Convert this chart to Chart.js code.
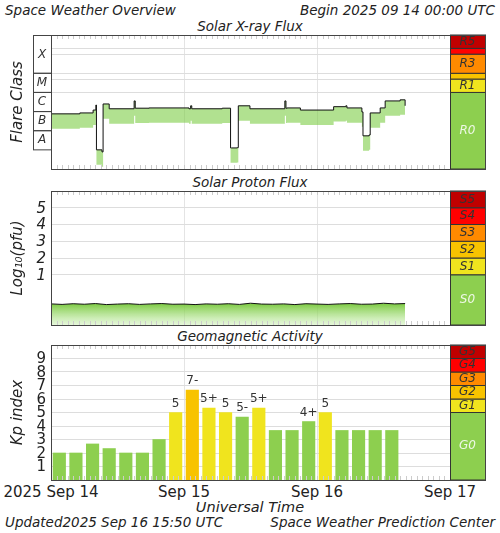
<!DOCTYPE html>
<html><head><meta charset="utf-8">
<script src="https://cdn.jsdelivr.net/npm/chart.js@4/dist/chart.umd.min.js"></script>
<style>
body{margin:0;background:#fff;width:500px;height:533px;overflow:hidden;position:relative;font-family:"DejaVu Sans",sans-serif;color:#222}
.t{position:absolute;white-space:nowrap;font-style:oblique;font-size:13.5px;line-height:16px}
.u{position:absolute;white-space:nowrap;font-size:15px;line-height:16px;transform:translateX(-50%)}
canvas{position:absolute;left:0}
</style></head><body>
<div class="t" style="left:5px;top:2px">Space Weather Overview</div>
<div class="t" style="right:5px;top:2px">Begin 2025 09 14 00:00 UTC</div>
<div class="t" style="left:0;width:500px;text-align:center;top:18px">Solar X-ray Flux</div>
<div class="t" style="left:0;width:500px;text-align:center;top:174px">Solar Proton Flux</div>
<div class="t" style="left:0;width:500px;text-align:center;top:328px">Geomagnetic Activity</div>
<div class="u" style="left:51px;top:484px">2025 Sep 14</div>
<div class="u" style="left:184px;top:484px">Sep 15</div>
<div class="u" style="left:317px;top:484px">Sep 16</div>
<div class="u" style="left:450px;top:484px">Sep 17</div>
<div class="t" style="left:0;width:500px;text-align:center;top:499px;font-size:14.5px">Universal Time</div>
<div class="t" style="left:5px;top:514px">Updated2025 Sep 16 15:50 UTC</div>
<div class="t" style="right:5px;top:514px">Space Weather Prediction Center</div>
<canvas id="c1" style="top:34px" width="500" height="136"></canvas>
<canvas id="c2" style="top:190px" width="500" height="136"></canvas>
<canvas id="c3" style="top:344px" width="500" height="137"></canvas>
<script>
// hours since 2025-09-14 00:00 UTC
const xrayHours = [0, 5.2, 7.6, 8.1, 8.2, 8.3, 9.2, 9.4, 10.5, 15.0, 15.2, 17.7, 24.9, 25.2, 25.4, 30.9, 32.4, 32.6, 33.6, 33.8, 35.9, 42.2, 42.4, 42.6, 45.0, 51.0, 53.2, 53.4, 56.1, 56.3, 57.4, 57.6, 59.4, 60.3, 63.0, 63.9];
const xrayFlux  = [7.6e-7, 8.5e-7, 1.2e-6, 2.2e-6, 1.0e-8, 1.0e-8, 7.8e-9, 2.5e-6, 1.4e-6, 3.6e-6, 1.5e-6, 1.55e-6, 1.4e-6, 2.0e-6, 1.4e-6, 1.5e-6, 1.26e-8, 1.26e-8, 1.3e-8, 2.0e-6, 1.4e-6, 3.6e-6, 1.5e-6, 1.55e-6, 1.2e-6, 1.8e-6, 2.0e-6, 1.55e-6, 9.6e-7, 5.4e-8, 6.0e-8, 8.5e-7, 1.55e-6, 3.6e-6, 4.1e-6, 2.0e-6];
const protonHours = [0, 2, 4, 6, 8, 10, 12, 14, 16, 18, 20, 22, 24, 26, 28, 30, 32, 34, 36, 38, 40, 42, 44, 46, 48, 50, 52, 54, 56, 58, 60, 62, 63.9];
const protonLog = [-0.74, -0.77, -0.73, -0.76, -0.72, -0.78, -0.75, -0.73, -0.77, -0.74, -0.72, -0.76, -0.75, -0.78, -0.74, -0.76, -0.73, -0.77, -0.70, -0.75, -0.76, -0.74, -0.78, -0.73, -0.75, -0.77, -0.74, -0.72, -0.76, -0.75, -0.70, -0.74, -0.72];
const protonTicks = [1, 2, 3, 4, 5];
const kpHours = [1.5, 4.5, 7.5, 10.5, 13.5, 16.5, 19.5, 22.5, 25.5, 28.5, 31.5, 34.5, 37.5, 40.5, 43.5, 46.5, 49.5, 52.5, 55.5, 58.5, 61.5];
const kpValues = [2, 2, 2.67, 2.33, 2, 2, 3, 5, 6.67, 5.33, 5, 4.67, 5.33, 3.67, 3.67, 4.33, 5, 3.67, 3.67, 3.67, 3.67];
const kpLabels = ['', '', '', '', '', '', '', '5', '7-', '5+', '5', '5-', '5+', '', '', '4+', '5', '', '', '', ''];
const kpTicks = [1, 2, 3, 4, 5, 6, 7, 8, 9];
const flareClasses = ['A', 'B', 'C', 'M', 'X'];
const dayTicks = [24, 48];

const GREEN = '#8dcf4f', YEL = '#f0e41e', AMB = '#f8c300', ORG = '#ff8a00', RED = '#ff0000', DRED = '#c00000';
const rBands = [[1e-9, 1e-5, GREEN, 'R0'], [1e-5, 5e-5, YEL, 'R1'], [5e-5, 1e-4, AMB, ''], [1e-4, 1e-3, ORG, 'R3'], [1e-3, 2e-3, RED, ''], [2e-3, 1e-2, DRED, 'R5']];
const sBands = [[-2, 1, GREEN, 'S0'], [1, 2, YEL, 'S1'], [2, 3, AMB, 'S2'], [3, 4, ORG, 'S3'], [4, 5, RED, 'S4'], [5, 6, DRED, 'S5']];
const gBands = [[0, 5, GREEN, 'G0'], [5, 6, YEL, 'G1'], [6, 7, AMB, 'G2'], [7, 8, ORG, 'G3'], [8, 9, RED, 'G4'], [9, 10, DRED, 'G5']];

function kpColor(v) { return v >= 7 ? ORG : v >= 6 ? AMB : v >= 5 ? YEL : GREEN; }

// border, hourly ticks, scale bar, y labels and rotated axis title
function frame(bands, title, labels, italic) {
    return {
        id: 'frame',
        afterDraw(chart) {
            const c = chart.ctx, a = chart.chartArea, y = chart.scales.y, x = chart.scales.x;
            c.save();
            c.strokeStyle = '#ccc'; c.lineWidth = 1;
            for (let h = 1; h < 72; h++) {
                const px = Math.round(x.getPixelForValue(h)) + 0.5;
                c.beginPath(); c.moveTo(px, a.top); c.lineTo(px, a.top + 4);
                c.moveTo(px, a.bottom); c.lineTo(px, a.bottom - 4); c.stroke();
            }
            const bx = a.right, bw = 35;
            bands.forEach(b => {
                const y0 = y.getPixelForValue(b[0]), y1 = y.getPixelForValue(b[1]);
                c.fillStyle = b[2]; c.fillRect(bx, y1, bw, y0 - y1);
                c.strokeStyle = '#333'; c.strokeRect(bx + 0.5, y1, bw, y0 - y1);
                if (b[3]) {
                    c.fillStyle = b[2] === GREEN ? '#eef8e6' : '#333';
                    c.font = 'oblique 12px "DejaVu Sans"'; c.textAlign = 'center'; c.textBaseline = 'middle';
                    c.fillText(b[3], bx + bw / 2, (y0 + y1) / 2);
                }
            });
            c.strokeStyle = '#444';
            c.strokeRect(a.left + 0.5, a.top + 0.5, a.right - a.left + bw, a.bottom - a.top);
            c.fillStyle = '#222'; c.textBaseline = 'middle'; c.textAlign = 'right';
            c.font = (italic ? 'oblique ' : '') + '15px "DejaVu Sans"';
            (labels || []).forEach(v => c.fillText(String(v), a.left - 5, y.getPixelForValue(v) + 1));
            c.translate(18, (a.top + a.bottom) / 2); c.rotate(-Math.PI / 2);
            c.font = 'oblique 15px "DejaVu Sans"'; c.textAlign = 'center';
            c.fillText(title, 0, 0);
            c.restore();
        }
    };
}

function xAxis() {
    return {
        type: 'linear', min: 0, max: 72, offset: false,
        ticks: { display: false }, border: { display: false },
        afterBuildTicks: s => { s.ticks = dayTicks.map(v => ({ value: v })); },
        grid: { color: '#e4e4e4', drawTicks: false, offset: false }
    };
}
function yAxis(extra, gridVals) {
    return Object.assign({
        afterFit: s => { s.width = 51; },
        ticks: { display: false }, border: { display: false },
        afterBuildTicks: s => { s.ticks = gridVals.map(v => ({ value: v })); },
        grid: { color: '#ddd', drawTicks: false }
    }, extra);
}
const base = {
    responsive: false, animation: false,
    layout: { padding: { top: 1, bottom: 1, right: 50, left: 0 } },
    plugins: { legend: { display: false }, tooltip: { enabled: false } }
};
function fade(ctx) {
    const a = ctx.chart.chartArea; if (!a) return GREEN;
    const g = ctx.chart.ctx.createLinearGradient(0, ctx.chart.scales.y.getPixelForValue(-0.75), 0, a.bottom);
    g.addColorStop(0, 'rgba(120,200,60,0.95)'); g.addColorStop(1, 'rgba(190,235,160,0.4)');
    return g;
}

// X-ray
new Chart(document.getElementById('c1'), {
    type: 'line',
    data: { datasets: [
        { data: xrayHours.map((h, i) => ({ x: h, y: xrayFlux[i] })), stepped: true, borderColor: '#111', borderWidth: 1, pointRadius: 0, fill: false },
        { data: xrayHours.map((h, i) => ({ x: h, y: xrayFlux[i] / 6 })), stepped: true, borderWidth: 0, pointRadius: 0, fill: '-1', backgroundColor: 'rgba(125,205,70,0.6)' }
    ] },
    options: { ...base,
        scales: { x: xAxis(), y: yAxis({ type: 'logarithmic', min: 1e-9, max: 1e-2 }, [1e-5, 5e-5, 1e-4, 1e-3, 2e-3]) }
    },
    plugins: [frame(rBands, 'Flare Class'), {
        id: 'classes',
        afterDraw(chart) {
            const c = chart.ctx, y = chart.scales.y, a = chart.chartArea;
            c.save(); c.strokeStyle = '#444'; c.fillStyle = '#333';
            c.font = 'oblique 12px "DejaVu Sans"'; c.textAlign = 'center'; c.textBaseline = 'middle';
            flareClasses.forEach((n, i) => {
                const y0 = y.getPixelForValue(Math.pow(10, -8 + i));
                const y1 = i === 4 ? a.top + 0.5 : y.getPixelForValue(Math.pow(10, -7 + i));
                c.strokeRect(33.5, y1, a.left - 33, y0 - y1);
                c.fillText(n, 42, (y0 + y1) / 2);
            });
            c.restore();
        }
    }]
});

// Protons
new Chart(document.getElementById('c2'), {
    type: 'line',
    data: { datasets: [
        { data: protonHours.map((h, i) => ({ x: h, y: protonLog[i] })), borderColor: '#111', borderWidth: 1, pointRadius: 0, fill: 'start', backgroundColor: fade }
    ] },
    options: { ...base,
        scales: { x: xAxis(), y: yAxis({ min: -2, max: 6 }, protonTicks) }
    },
    plugins: [frame(sBands, 'Log\u2081\u2080(pfu)', protonTicks, true)]
});

// Kp
new Chart(document.getElementById('c3'), {
    type: 'bar',
    data: { datasets: [
        { data: kpHours.map((h, i) => ({ x: h, y: kpValues[i] })), backgroundColor: kpValues.map(kpColor), barThickness: 12.5 }
    ] },
    options: { ...base,
        scales: { x: xAxis(), y: yAxis({ min: 0, max: 10 }, kpTicks) }
    },
    plugins: [frame(gBands, 'Kp index', kpTicks, false), {
        id: 'kpText',
        afterDatasetsDraw(chart) {
            const c = chart.ctx;
            c.save(); c.fillStyle = '#333'; c.font = '12px "DejaVu Sans"';
            c.textAlign = 'center'; c.textBaseline = 'bottom';
            chart.getDatasetMeta(0).data.forEach((el, i) => {
                if (kpLabels[i]) c.fillText(kpLabels[i], el.x, el.y - 3);
            });
            c.restore();
        }
    }]
});
</script>
</body></html>
